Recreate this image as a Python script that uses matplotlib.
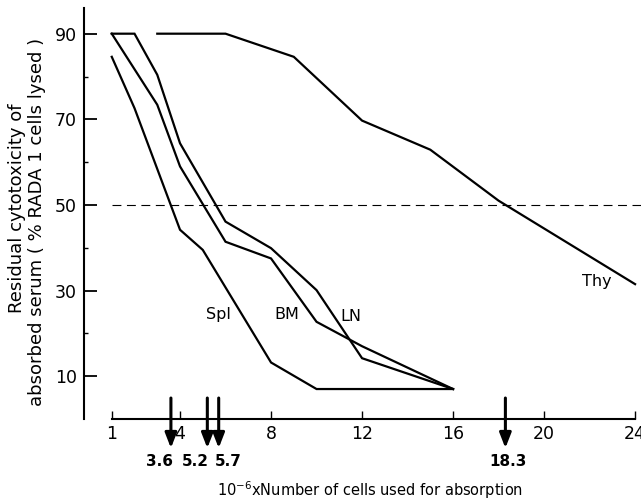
import matplotlib
matplotlib.use("Agg")
import matplotlib.pyplot as plt

plt.rcParams['font.family'] = ['DejaVu Sans']

# Data
spl_x = [1, 2, 4, 5, 8, 10, 16]
spl_y = [84.6, 72.6, 44.2, 39.5, 13.2, 7.0, 7.0]

bm_x = [1, 3, 4, 6, 8, 10, 12, 16]
bm_y = [90, 73.4, 59.0, 41.4, 37.5, 22.7, 17.0, 7.0]

ln_x = [1, 2, 3, 4, 6, 8, 10, 12, 16]
ln_y = [90, 90, 80.4, 64.4, 46.1, 39.9, 30.1, 14.2, 7.0]

thy_x = [3, 6, 9, 12, 15, 18, 24]
thy_y = [90, 90, 84.6, 69.7, 62.9, 51.0, 31.5]

series_labels = ["Spl", "BM", "LN", "Thy"]
label_pos = [(5.67, 24.3), (8.7, 24.3), (11.5, 24.0), (22.3, 32.1)]

x_ticks = [1, 4, 8, 12, 16, 20, 24]
y_ticks = [10, 30, 50, 70, 90]
y_minor = [20, 40, 60, 80]

half_values = [3.6, 5.2, 5.7, 18.3]
half_label_dx = [-11, -12, 10, 3]  # px offsets for the value labels

fig = plt.figure(figsize=(6.41, 5.01), dpi=100)
ax = fig.add_axes([84/641, 82/501, 557/641, 411/501])
ax.set_xlim(-0.22, 24.26)
ax.set_ylim(0, 96)

lw = 1.6
for xs, ys in [(spl_x, spl_y), (bm_x, bm_y), (ln_x, ln_y), (thy_x, thy_y)]:
    ax.plot(xs, ys, color='black', lw=lw, solid_joinstyle='miter', clip_on=False)

ax.plot([1, 24.3], [50, 50], color='black', lw=0.8, ls=(0, (8, 5)), clip_on=False)

for lab, (lx, ly) in zip(series_labels, label_pos):
    ax.text(lx, ly, lab, ha='center', va='center', fontsize=11.5)

# spines
ax.spines['top'].set_visible(False)
ax.spines['right'].set_visible(False)
ax.spines['left'].set_linewidth(1.5)
ax.spines['bottom'].set_linewidth(1.5)
ax.spines['bottom'].set_bounds(1, 24)
ax.spines['left'].set_bounds(0, 96)

ax.set_xticks(x_ticks)
ax.set_xticklabels([str(t) for t in x_ticks])
ax.set_yticks(y_ticks)
ax.set_yticklabels([str(t) for t in y_ticks])
ax.set_yticks(y_minor, minor=True)
ax.tick_params(axis='y', which='major', direction='in', length=9, width=1.3, labelsize=12.5, pad=5)
ax.tick_params(axis='y', which='minor', direction='in', length=3, width=1.0)
ax.tick_params(axis='x', which='major', direction='in', length=6, width=1.0, labelsize=12.5, pad=4)

# arrows for 50% values
for v, dx in zip(half_values, half_label_dx):
    ax.annotate('', xy=(v, -6.8), xytext=(v, 4.9),
                arrowprops=dict(arrowstyle='-|>,head_length=0.9,head_width=0.35',
                                lw=2.2, color='black', shrinkA=0, shrinkB=0),
                annotation_clip=False)
    ax.annotate(f"{v}", xy=(v, -9.9), xytext=(dx, 0), textcoords='offset pixels',
                ha='center', va='center', fontsize=11, fontweight='bold',
                annotation_clip=False)

fig.text(370/641, 1 - 490/501, r"10$^{-6}$xNumber of cells used for absorption",
         ha='center', va='center', fontsize=10.5)
fig.text(17/641, 1 - 208/501, "Residual cytotoxicity of", rotation=90,
         ha='center', va='center', fontsize=13)
fig.text(37/641, 1 - 222/501, "absorbed serum ( % RADA 1 cells lysed )", rotation=90,
         ha='center', va='center', fontsize=13)

fig.savefig("out.png", dpi=100)
